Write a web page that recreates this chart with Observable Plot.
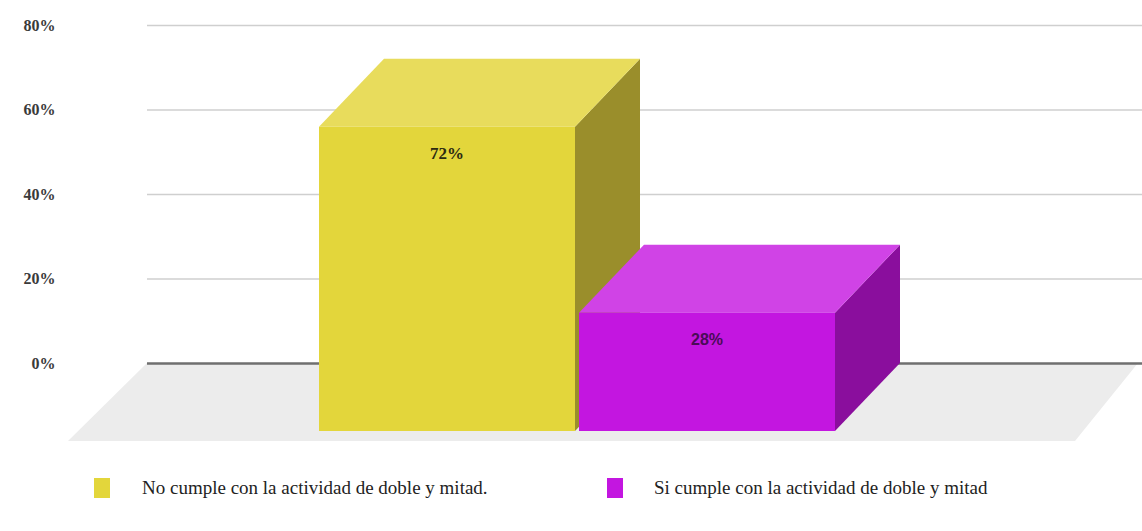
<!DOCTYPE html>
<html>
<head>
<meta charset="utf-8">
<script src="https://cdn.jsdelivr.net/npm/d3@7"></script>
<script src="https://cdn.jsdelivr.net/npm/@observablehq/plot@0.6"></script>
<style>
  html, body { margin: 0; padding: 0; background: #fff; }
  #wrap { position: relative; width: 1142px; height: 531px; }
  .leg { position: absolute; font-family: "Liberation Serif", "DejaVu Serif", serif; font-size: 19px; line-height: 22px; color: #222; white-space: nowrap; }
  .sw { position: absolute; width: 16px; height: 20px; }
</style>
</head>
<body>
<div id="wrap"></div>
<script>
// ---- data ----
const categories = ["No cumple con la actividad de doble y mitad.", "Si cumple con la actividad de doble y mitad"];
const values = [72, 28];
const labels = ["72%", "28%"];
const yTicks = [0, 20, 40, 60, 80];

// ---- styles ----
const frontColors = ["#e3d63b", "#c316e0"];
const topColors = ["#e8dc5c", "#d043e6"];
const sideColors = ["#9a8e2b", "#8a0e9d"];
const labelColors = ["#2b2a12", "#4a0b57"];
const labelFonts = ['"Liberation Serif", serif', '"Liberation Sans", Arial, sans-serif'];
const DX = 65, DY = 68;         // 3D depth offset in px
const FLOOR_DX = 79, FLOOR_DY = 78;

const data = categories.map((c, i) => ({category: c, value: values[i], label: labels[i], i}));

function floorMark(index, scales, values, dims) {
  const g = d3.create("svg:g");
  const y0 = scales.y(0);
  const xl = dims.marginLeft, xr = dims.width - 4;
  g.append("polygon")
    .attr("points", [[xl, y0], [xr, y0], [xr - FLOOR_DX + 16, y0 + FLOOR_DY], [xl - FLOOR_DX, y0 + FLOOR_DY]].map(p => p.join(",")).join(" "))
    .attr("fill", "#ececec");
  return g.node();
}

function barsMark(index, scales) {
  const g = d3.create("svg:g");
  const bw = scales.x.bandwidth ? scales.x.bandwidth() : 257;
  const y0 = scales.y(0);
  data.forEach((d, i) => {
    const xb0 = scales.x(d.category), xb1 = xb0 + bw;
    const ybT = scales.y(d.value), ybB = y0;
    const xf0 = xb0 - DX, xf1 = xb1 - DX;
    const yfT = ybT + DY, yfB = ybB + DY;
    const pts = a => a.map(p => p.join(",")).join(" ");
    g.append("polygon").attr("points", pts([[xf1, yfT], [xb1, ybT], [xb1, ybB], [xf1, yfB]])).attr("fill", sideColors[i]);
    g.append("polygon").attr("points", pts([[xf0, yfT], [xb0, ybT], [xb1, ybT], [xf1, yfT]])).attr("fill", topColors[i]);
    g.append("rect").attr("x", xf0).attr("y", yfT).attr("width", bw).attr("height", yfB - yfT).attr("fill", frontColors[i]);
    g.append("text").attr("x", (xf0 + xf1) / 2).attr("y", yfT + 28)
      .attr("text-anchor", "middle").attr("dominant-baseline", "middle")
      .style("font-family", labelFonts[i]).style("font-weight", "bold").style("font-size", i === 0 ? "17px" : "16px")
      .attr("fill", labelColors[i]).text(d.label);
  });
  return g.node();
}

const chart = Plot.plot({
  width: 1142,
  height: 460,
  marginLeft: 147,
  marginRight: 0,
  marginTop: 25,
  marginBottom: 0,
  style: {fontFamily: '"Liberation Serif", serif', background: "transparent", overflow: "visible"},
  x: {type: "band", domain: categories, range: [383, 901], paddingInner: 0.0153, paddingOuter: 0, axis: null},
  y: {domain: [0, 80], range: [363, 25]},
  marks: [
    floorMark,
    Plot.gridY(yTicks.filter(t => t > 0), {stroke: "#cfcfcf", strokeOpacity: 1, strokeWidth: 1.5}),
    Plot.ruleY([0], {stroke: "#6f6f6f", strokeWidth: 2.5}),
    Plot.axisY({ticks: yTicks, tickSize: 0, tickPadding: 92, tickFormat: d => d + "%", fontSize: 16, fontWeight: "bold", fill: "#3a3a3a", label: null}),
    barsMark
  ]
});

const wrap = document.getElementById("wrap");
wrap.appendChild(chart);

const legendX = [[94, 142], [607, 654]];
categories.forEach((c, i) => {
  const sw = document.createElement("div");
  sw.className = "sw";
  sw.style.left = legendX[i][0] + "px";
  sw.style.top = "478px";
  sw.style.background = frontColors[i];
  wrap.appendChild(sw);
  const t = document.createElement("div");
  t.className = "leg";
  t.style.left = legendX[i][1] + "px";
  t.style.top = "477px";
  t.textContent = c;
  wrap.appendChild(t);
});
</script>
</body>
</html>
